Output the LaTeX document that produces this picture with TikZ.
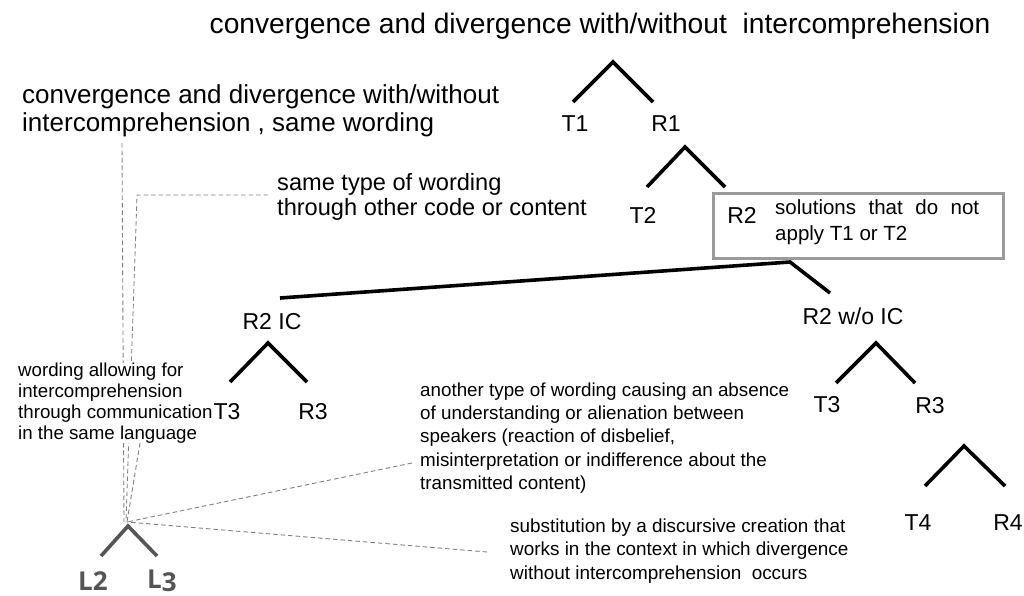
\documentclass[tikz,border=0pt]{standalone}
\usepackage{fontspec}
\setmainfont{Liberation Sans}
\newfontfamily\lfont{Open Sans}
\definecolor{guidegray}{HTML}{808080}
\definecolor{boxgray}{HTML}{9A9A9A}
\definecolor{lgray}{HTML}{555555}
\begin{document}
\begin{tikzpicture}[x=1pt,y=-1pt,
  hat/.style={line width=3.6pt},
  guide/.style={guidegray,line width=0.9pt,dash pattern=on 4.5pt off 3pt},
  big/.style={font=\fontsize{23}{27}\selectfont,inner sep=0pt},
  note/.style={font=\fontsize{18.7}{21}\selectfont,align=left,anchor=west,inner sep=0pt,fill=white}]

  \useasboundingbox (0,0) rectangle (1024,596);

  % dashed guide lines
  \coordinate (lapex) at (127,522);
  \coordinate (ga) at (122,143);
  \coordinate (gb) at (268,195);
  \coordinate (gbc) at (137,195);
  \coordinate (gc) at (140,443);
  \coordinate (gd) at (412,463);
  \coordinate (ge) at (487,552);
  \draw[guide] (ga) -- ([xshift=-3pt]lapex);
  \draw[guide] (gb) -- (gbc) -- ([xshift=-1pt]lapex);
  \draw[guide] (gc) -- (lapex);
  \draw[guide] (gd) -- (lapex);
  \draw[guide] (ge) -- (lapex);

  % title
  \node [font=\fontsize{28.2}{32}\selectfont,inner sep=0pt] (title) at (600,26) {convergence and divergence with/without\ \ intercomprehension};

  % trees
  \draw[hat] (573,102) -- (613,62) -- (653,102);
  \node [big] (t1) at (575,124) {T1};
  \node [big] (r1) at (666,124) {R1};

  \draw[hat] (647,187) -- (685,147) -- (725,187);
  \node [big] (t2) at (643,215) {T2};

  \node [draw=boxgray,line width=2.6pt,minimum width=290pt,minimum height=65pt,anchor=north west] (r2) at (712,192) {};
  \node [big] (r2lab) at (742,215) {R2};
  \node [font=\fontsize{20.5}{26}\selectfont,align=left,anchor=west,inner sep=0pt] (r2note) at (775,222) {\makebox[204pt][s]{solutions that do not}\\apply T1 or T2};

  \draw[hat] (280,298) -- (790,262) -- (830,293);
  \node [big] (r2ic) at (272,322) {R2 IC};
  \node [big] (r2wo) at (853,316) {R2 w/o IC};

  \draw[hat] (230,382) -- (268,343) -- (307,382);
  \node [big] (t3a) at (227,412) {T3};
  \node [big] (r3a) at (313,412) {R3};

  \draw[hat] (836,383) -- (876,343) -- (915,383);
  \node [big] (t3b) at (827,405) {T3};
  \node [big] (r3b) at (930,406) {R3};

  \draw[hat] (925,486) -- (964,446) -- (1005,486);
  \node [big] (t4) at (918,523) {T4};
  \node [big] (r4) at (1008,523) {R4};

  \draw[hat,lgray] (101,556) -- (128,526) -- (157,556);
  \node [font=\lfont\fontsize{26}{30}\selectfont\bfseries,text=lgray,inner sep=0pt] (l2) at (93,581) {L2};
  \node [font=\lfont\fontsize{26}{30}\selectfont\bfseries,text=lgray,inner sep=0pt] (l3) at (162,581) {L\raisebox{-2.5pt}{3}};

  % notes
  \node [note,font=\fontsize{26}{28}\selectfont] (same) at (22,111) {convergence and divergence with/without\\intercomprehension , same wording};
  \node [note,font=\fontsize{23.6}{25}\selectfont] (other) at (277,197) {same type of wording\\through other code or content};
  \node [note] (allow) at (18,403) {wording allowing for\\intercomprehension\\through communication\\in the same language};
  \node [note,font=\fontsize{18.8}{23.3}\selectfont,fill=none] (absence) at (420,438) {another type of wording causing an absence\\of understanding or alienation between\\speakers (reaction of disbelief,\\misinterpretation or indifference about the\\transmitted content)};
  \node [note,font=\fontsize{18.9}{23.5}\selectfont,fill=none] (subst) at (510,551) {substitution by a discursive creation that\\works in the context in which divergence\\without intercomprehension\ \ occurs};
\end{tikzpicture}
\end{document}
